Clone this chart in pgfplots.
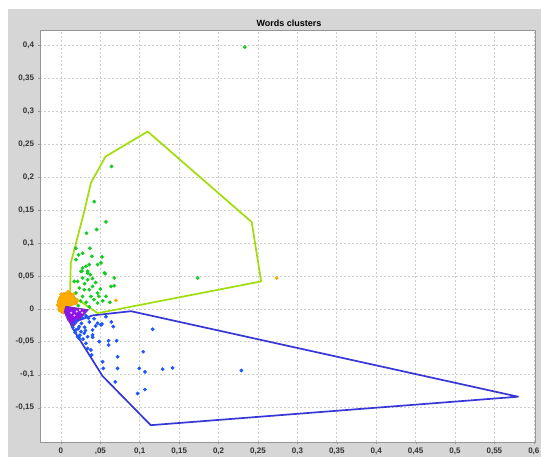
\documentclass[border=0pt]{standalone}
\usepackage{pgfplots}
\pgfplotsset{compat=1.18}
\usepackage{fontspec}
\setmainfont{Liberation Sans}
\definecolor{panelgray}{RGB}{214,214,214}
\definecolor{hullgreen}{RGB}{160,222,10}
\definecolor{ptgreen}{RGB}{20,205,30}
\definecolor{ptblue}{RGB}{30,85,255}
\definecolor{hullblue}{RGB}{55,55,215}
\definecolor{purplefill}{RGB}{140,20,235}
\definecolor{purpleedge}{RGB}{120,50,170}
\definecolor{orangefill}{RGB}{255,170,0}
\definecolor{gridgray}{RGB}{205,205,205}
\definecolor{bordergray}{RGB}{150,150,150}
\begin{document}
\begin{tikzpicture}[x=1pt,y=1pt]
\useasboundingbox (0,0) rectangle (541,457);
\clip (0,0) rectangle (541,457);
\fill[white] (0,0) rectangle (541,457);
\fill[panelgray] (8,0) rectangle (541,448);
\node[font=\bfseries\fontsize{9}{10}\selectfont] at (289,433.5) {Words clusters};
\begin{axis}[
  at={(40pt,15pt)}, anchor=south west,
  scale only axis, width=495pt, height=412pt,
  xmin=-0.0266, xmax=0.6015, ymin=-0.202, ymax=0.423,
  axis background/.style={fill=white},
  axis line style={bordergray, line width=0.8pt},
  xtick={0,0.05,0.1,0.15,0.2,0.25,0.3,0.35,0.4,0.45,0.5,0.55,0.6},
  xticklabels={0,{,05},{0,1},{0,15},{0,2},{0,25},{0,3},{0,35},{0,4},{0,45},{0,5},{0,55},{0,6}},
  ytick={-0.15,-0.1,-0.05,0,0.05,0.1,0.15,0.2,0.25,0.3,0.35,0.4},
  yticklabels={{-0,15},{-0,1},{-0,05},0,{0,05},{0,1},{0,15},{0,2},{0,25},{0,3},{0,35},{0,4}},
  tick label style={font=\bfseries\fontsize{8}{9}\selectfont, text=black!80},
  tick align=outside, major tick length=2.5pt,
  tick style={bordergray},
  xtick pos=bottom, ytick pos=left,
  grid=major,
  major grid style={gridgray, dash pattern=on 2pt off 2pt, line width=0.6pt},
  clip=true,
]
% blue cluster hull
\addplot[hullblue, line width=1.7pt, line join=round] coordinates {
(0.0889,-0.0036) (0.580,-0.1333) (0.1139,-0.1765) (0.0526,-0.1017)
(0.0147,-0.0294) (0.012,-0.022) (0.040,-0.010) (0.0889,-0.0036)};
% green cluster hull
\addplot[hullgreen, line width=1.7pt, line join=round] coordinates {
(0.0465,-0.0066) (0.254,0.0416) (0.242,0.1316) (0.110,0.269)
(0.0565,0.231) (0.038,0.191) (0.0296,0.148) (0.017,0.090) (0.0125,0.070)
(0.0115,0.022) (0.0465,-0.0066)};
% blue points
\addplot[only marks, mark=*, mark size=1.7pt, ptblue] coordinates {
(0.0274,-0.0142) (0.0317,-0.0107) (0.035,-0.0142) (0.0465,-0.0218)
(0.052,-0.0229) (0.0508,-0.0244) (0.0664,-0.027) (0.1163,-0.031)
(0.0232,-0.027) (0.019,-0.032) (0.0254,-0.0346) (0.0296,-0.037)
(0.0338,-0.0422) (0.0401,-0.032) (0.0401,-0.0396) (0.0401,-0.0431)
(0.0211,-0.0422) (0.0232,-0.0447) (0.0486,-0.0498) (0.0604,-0.0483)
(0.0706,-0.0483) (0.0604,-0.0549) (0.0317,-0.0523) (0.038,-0.0625)
(0.0338,-0.060) (0.1044,-0.0651) (0.0389,-0.0701) (0.0718,-0.0727)
(0.0528,-0.0803) (0.0537,-0.0904) (0.0718,-0.0904) (0.0994,-0.0904)
(0.1066,-0.0956) (0.129,-0.0915) (0.1416,-0.0895) (0.0689,-0.1108)
(0.0972,-0.1285) (0.1066,-0.1224) (0.0169,-0.0218) (0.229,-0.0936)
(0.015,-0.028) (0.020,-0.018) (0.026,-0.022) (0.030,-0.028) (0.036,-0.020)
(0.018,-0.036) (0.024,-0.040) (0.028,-0.046) (0.044,-0.026) (0.042,-0.015)
(0.057,-0.012) (0.064,-0.020) (0.031,-0.033) (0.022,-0.030)};
% green points
\addplot[only marks, mark=*, mark size=1.7pt, ptgreen] coordinates {
(0.2333,0.397) (0.1734,0.0468)
(0.0642,0.216) (0.0423,0.1626) (0.0571,0.132) (0.0452,0.1204)
(0.0325,0.1148) (0.0368,0.0919) (0.019,0.0919) (0.0223,0.0818)
(0.0274,0.0843) (0.019,0.0747) (0.0393,0.0797) (0.052,0.0788)
(0.0508,0.0697) (0.0317,0.0645) (0.0359,0.0671) (0.0274,0.062)
(0.0465,0.0671) (0.0338,0.0569) (0.0372,0.0518) (0.0266,0.0569)
(0.0562,0.0534) (0.0676,0.0468) (0.0676,0.035) (0.0169,0.0416)
(0.0211,0.0416) (0.0274,0.0468) (0.0338,0.0442) (0.0401,0.034)
(0.0232,0.0316) (0.0296,0.029) (0.0359,0.029) (0.0465,0.024)
(0.0571,0.0188) (0.019,0.024) (0.0274,0.0188) (0.038,0.0188)
(0.0254,0.0569) (0.0338,0.0544) (0.055,0.0544) (0.0634,0.034)
(0.0465,0.0087) (0.044,0.040) (0.050,0.030) (0.042,0.014) (0.032,0.010)
(0.025,0.012) (0.022,0.005) (0.036,0.003) (0.040,0.046) (0.030,0.038)
(0.053,0.012) (0.048,0.019) (0.062,0.010)};
% orange cluster
\addplot[draw=orangefill!90!black, fill=orangefill, line width=0.6pt] coordinates {
(-0.0022,0.0183) (0.0029,0.0244) (0.0131,0.0244) (0.0181,0.0168)
(0.0207,0.0076) (0.008,0.003) (0.0029,-0.0076) (-0.0034,-0.003)
(-0.0047,0.0107) (-0.0022,0.0183)};
\addplot[only marks, mark=*, mark size=1.7pt, orangefill] coordinates {
(0.0698,0.0127) (0.2736,0.0468) (0.0,0.022) (0.016,0.022) (-0.004,0.006)
(0.021,0.012) (0.009,0.026)};
% purple cluster
\addplot[draw=purpleedge, fill=purplefill, line width=1pt, line join=round] coordinates {
(0.0061,0.0038) (0.0346,-0.0015) (0.015,-0.0274) (0.0086,-0.0168)
(0.0042,-0.0046) (0.0061,0.0038)};
\addplot[only marks, mark=*, mark size=0.8pt, white!75!purplefill] coordinates {
(0.020,-0.004) (0.024,-0.002) (0.017,-0.010) (0.027,-0.006) (0.013,-0.006)};
\end{axis}
\end{tikzpicture}
\end{document}
